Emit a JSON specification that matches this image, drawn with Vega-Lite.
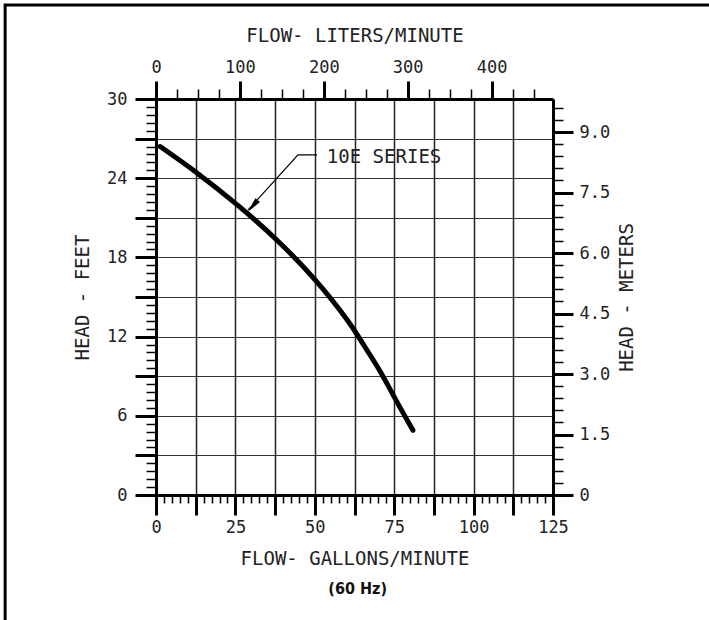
{
  "$schema": "https://vega.github.io/schema/vega-lite/v6.json",
  "autosize": {"type": "none"},
  "padding": {"left": 156, "top": 99, "right": 156, "bottom": 125},
  "width": 397,
  "height": 396,
  "background": "white",
  "config": {
    "view": {"stroke": null},
    "axis": {"labelFont": "DejaVu Sans Mono", "labelFontSize": 17, "labelColor": "#222", "titleFont": "DejaVu Sans Mono", "titleFontSize": 19, "titleFontWeight": "normal", "titleColor": "#222", "domainColor": "black", "tickColor": "black", "domainWidth": 3, "labelOverlap": false, "labelBound": false, "labelFlush": false, "tickCount": 200}
  },
  "datasets": {
    "curve": [
      {"gpm": 1.3, "ft": 26.4},
      {"gpm": 12.9, "ft": 24.4},
      {"gpm": 25.5, "ft": 22.0},
      {"gpm": 38.1, "ft": 19.3},
      {"gpm": 50.1, "ft": 16.3},
      {"gpm": 60.1, "ft": 13.3},
      {"gpm": 65.3, "ft": 11.4},
      {"gpm": 70.5, "ft": 9.4},
      {"gpm": 75.3, "ft": 7.3},
      {"gpm": 80.9, "ft": 4.9}
    ],
    "leader": [
      {"gpm": 50.7, "ft": 25.76, "o": 1},
      {"gpm": 44.7, "ft": 25.76, "o": 2},
      {"gpm": 29.0, "ft": 21.6, "o": 3}
    ],
    "label": [{"gpm": 53.8, "ft": 25.64, "text": "10E SERIES"}],
    "note": [{"text": "(60 Hz)"}],
    "metric": [{"lpm": 0, "m": 0}]
  },
  "layer": [
    {
      "layer": [
        {
          "data": {"name": "curve"},
          "mark": {"type": "line", "color": "black", "strokeWidth": 5, "interpolate": "natural", "strokeCap": "round"},
          "encoding": {
            "x": {"field": "gpm", "type": "quantitative", "scale": {"domain": [0, 125], "nice": false, "zero": false},
              "axis": {"orient": "bottom", "title": "FLOW- GALLONS/MINUTE", "tickCount": 200,
                "values": [0,2.5,5,7.5,10,12.5,15,17.5,20,22.5,25,27.5,30,32.5,35,37.5,40,42.5,45,47.5,50,52.5,55,57.5,60,62.5,65,67.5,70,72.5,75,77.5,80,82.5,85,87.5,90,92.5,95,97.5,100,102.5,105,107.5,110,112.5,115,117.5,120,122.5,125],
                "labelExpr": "datum.value % 25 === 0 ? format(datum.value, 'd') : ''",
                "grid": true, "gridColor": "#222", "gridWidth": 1.5,
                "gridOpacity": {"condition": {"test": "datum.value % 12.5 === 0", "value": 1}, "value": 0},
                "tickSize": {"condition": {"test": "datum.value % 12.5 === 0", "value": 20}, "value": 8},
                "tickWidth": {"condition": {"test": "datum.value % 12.5 === 0", "value": 3}, "value": 1.5},
                "labelPadding": 4, "titlePadding": 14}},
            "y": {"field": "ft", "type": "quantitative", "scale": {"domain": [0, 30], "nice": false, "zero": false},
              "axis": {"orient": "left", "title": "HEAD - FEET", "tickCount": 200,
                "values": [0,0.6,1.2,1.8,2.4,3,3.6,4.2,4.8,5.4,6,6.6,7.2,7.8,8.4,9,9.6,10.2,10.8,11.4,12,12.6,13.2,13.8,14.4,15,15.6,16.2,16.8,17.4,18,18.6,19.2,19.8,20.4,21,21.6,22.2,22.8,23.4,24,24.6,25.2,25.8,26.4,27,27.6,28.2,28.8,29.4,30],
                "labelExpr": "abs(datum.value/6 - round(datum.value/6)) < 0.01 ? format(datum.value, 'd') : ''",
                "grid": true, "gridColor": "#333", "gridWidth": 1.2,
                "gridOpacity": {"condition": {"test": "abs(datum.value/3 - round(datum.value/3)) < 0.01", "value": 1}, "value": 0},
                "tickSize": {"condition": {"test": "abs(datum.value/3 - round(datum.value/3)) < 0.01", "value": 21}, "value": 10},
                "tickWidth": {"condition": {"test": "abs(datum.value/3 - round(datum.value/3)) < 0.01", "value": 3}, "value": 1.5},
                "labelPadding": 8, "titlePadding": 14}}
          }
        },
        {
          "data": {"values": [{}]},
          "mark": {"type": "rect", "fill": null, "stroke": "black", "strokeWidth": 3},
          "encoding": {
            "x": {"datum": -47.5, "type": "quantitative"},
            "x2": {"datum": 175.5},
            "y": {"datum": 37.12, "type": "quantitative"},
            "y2": {"datum": -10}
          }
        },
        {
          "data": {"name": "leader"},
          "mark": {"type": "line", "color": "black", "strokeWidth": 1.2},
          "encoding": {
            "x": {"field": "gpm", "type": "quantitative"},
            "y": {"field": "ft", "type": "quantitative"},
            "order": {"field": "o"}
          }
        },
        {
          "data": {"values": [{}]},
          "mark": {"type": "point", "shape": "M0,-1L0.4,1L-0.4,1Z", "filled": true, "color": "black", "opacity": 1, "size": 225, "angle": 220},
          "encoding": {
            "x": {"datum": 30.5, "type": "quantitative"},
            "y": {"datum": 21.9, "type": "quantitative"}
          }
        },
        {
          "data": {"name": "label"},
          "mark": {"type": "text", "align": "left", "baseline": "middle", "font": "DejaVu Sans Mono", "fontSize": 19, "color": "#222"},
          "encoding": {
            "x": {"field": "gpm", "type": "quantitative"},
            "y": {"field": "ft", "type": "quantitative"},
            "text": {"field": "text"}
          }
        },
        {
          "data": {"name": "note"},
          "mark": {"type": "text", "align": "center", "baseline": "middle", "font": "Liberation Sans Narrow, DejaVu Sans Condensed, Liberation Sans", "fontWeight": "bold", "fontSize": 16, "color": "#111"},
          "encoding": {
            "x": {"datum": 63.5, "type": "quantitative"},
            "y": {"datum": -7.12, "type": "quantitative"},
            "text": {"field": "text"}
          }
        }
      ]
    },
    {
      "data": {"name": "metric"},
      "mark": {"type": "point", "opacity": 0},
      "encoding": {
        "x": {"field": "lpm", "type": "quantitative", "scale": {"domain": [0, 473.2], "nice": false, "zero": false},
          "axis": {"orient": "top", "title": "FLOW- LITERS/MINUTE", "tickCount": 200,
            "values": [0,25,50,75,100,125,150,175,200,225,250,275,300,325,350,375,400,425,450],
            "labelExpr": "datum.value % 100 === 0 ? format(datum.value, 'd') : ''",
            "grid": false,
            "tickSize": {"condition": {"test": "datum.value % 100 === 0", "value": 18}, "value": 10},
            "tickWidth": {"condition": {"test": "datum.value % 100 === 0", "value": 3}, "value": 1.5},
            "labelPadding": 5, "titlePadding": 13}},
        "y": {"field": "m", "type": "quantitative", "scale": {"domain": [0, 9.82], "nice": false, "zero": false},
          "axis": {"orient": "right", "title": "HEAD - METERS", "titleAngle": 270, "titleBaseline": "top", "tickCount": 200,
            "values": [0,0.3,0.6,0.9,1.2,1.5,1.8,2.1,2.4,2.7,3,3.3,3.6,3.9,4.2,4.5,4.8,5.1,5.4,5.7,6,6.3,6.6,6.9,7.2,7.5,7.8,8.1,8.4,8.7,9,9.3,9.6],
            "labelExpr": "abs(datum.value/1.5 - round(datum.value/1.5)) < 0.01 ? (datum.value === 0 ? '0' : format(datum.value, '.1f')) : ''",
            "grid": false,
            "tickSize": {"condition": {"test": "abs(datum.value/1.5 - round(datum.value/1.5)) < 0.01", "value": 20}, "value": 10},
            "tickWidth": {"condition": {"test": "abs(datum.value/1.5 - round(datum.value/1.5)) < 0.01", "value": 3}, "value": 1.5},
            "labelPadding": 6, "titlePadding": 8}}
      }
    }
  ],
  "resolve": {"scale": {"x": "independent", "y": "independent"}}
}
